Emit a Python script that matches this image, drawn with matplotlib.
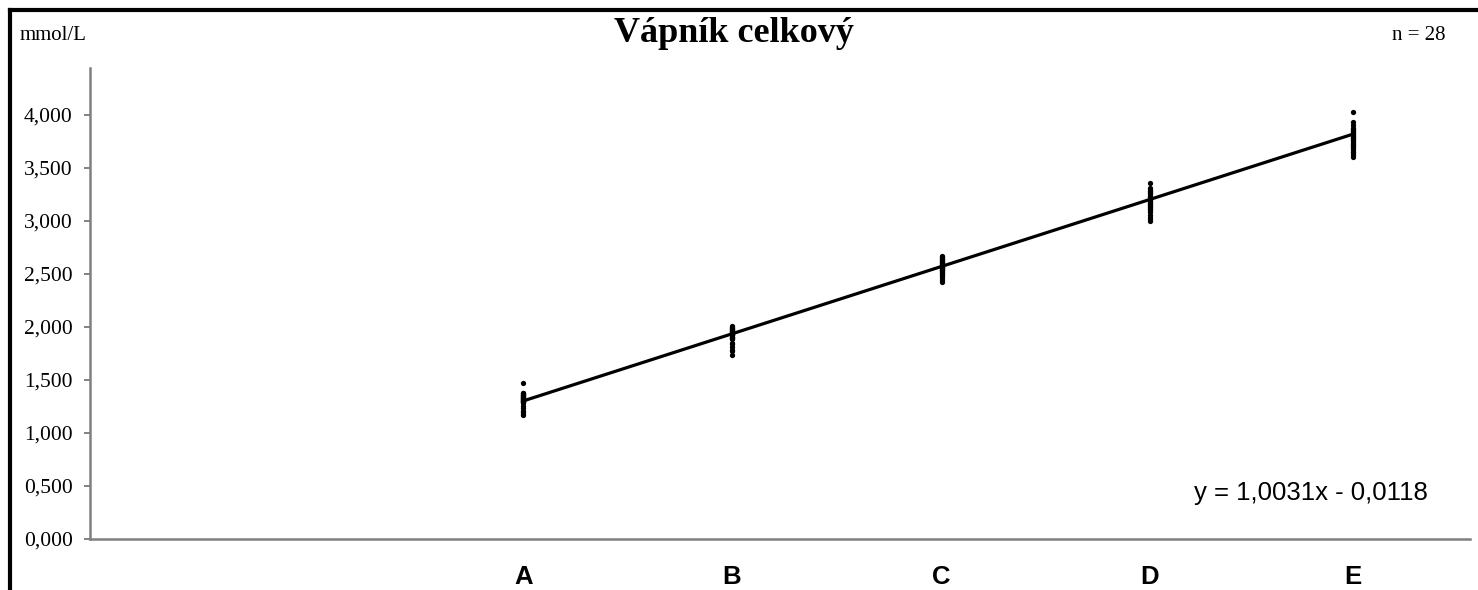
import matplotlib
matplotlib.use("Agg")
import matplotlib.pyplot as plt
from matplotlib.lines import Line2D
from matplotlib.ticker import FuncFormatter, MultipleLocator

# assigned (target) values and their labels on the x axis
levels = ["A", "B", "C", "D", "E"]
targets = [1.31, 1.94, 2.575, 3.205, 3.82]

# measured values of the 28 participants, one list per level (mmol/L)
vals_a = [1.47, 1.38, 1.38, 1.37, 1.36, 1.36, 1.35, 1.35, 1.34, 1.34, 1.33, 1.33, 1.32, 1.32,
          1.31, 1.31, 1.30, 1.30, 1.30, 1.29, 1.29, 1.28, 1.25, 1.24, 1.21, 1.20, 1.18, 1.17]
vals_b = [2.01, 2.00, 1.99, 1.98, 1.98, 1.97, 1.96, 1.96, 1.95, 1.95, 1.94, 1.94, 1.93, 1.93,
          1.93, 1.92, 1.92, 1.91, 1.91, 1.90, 1.90, 1.89, 1.85, 1.84, 1.81, 1.78, 1.77, 1.74]
vals_c = [2.67, 2.66, 2.65, 2.64, 2.63, 2.62, 2.61, 2.61, 2.60, 2.59, 2.58, 2.58, 2.57, 2.57,
          2.56, 2.56, 2.55, 2.54, 2.54, 2.53, 2.52, 2.51, 2.50, 2.49, 2.48, 2.46, 2.44, 2.42]
vals_d = [3.36, 3.31, 3.29, 3.28, 3.27, 3.26, 3.25, 3.24, 3.23, 3.22, 3.21, 3.21, 3.20, 3.19,
          3.18, 3.17, 3.16, 3.15, 3.14, 3.13, 3.12, 3.11, 3.10, 3.08, 3.06, 3.04, 3.02, 3.00]
vals_e = [4.03, 3.93, 3.91, 3.88, 3.87, 3.86, 3.85, 3.84, 3.83, 3.82, 3.81, 3.80, 3.79, 3.78,
          3.77, 3.76, 3.75, 3.74, 3.73, 3.72, 3.71, 3.70, 3.69, 3.67, 3.65, 3.64, 3.62, 3.60]
measured = [vals_a, vals_b, vals_c, vals_d, vals_e]

# regression line shown on the chart
slope, intercept = 1.0031, -0.0118
n_labs = 28

SERIF = "Liberation Serif"
SANS = "Liberation Sans"
GREY = "#808080"

fig = plt.figure(figsize=(14.78, 5.90), dpi=100)
ax = fig.add_axes([90 / 1478, 1 - 539 / 590, 1380 / 1478, 471 / 590])

for x, ys in zip(targets, measured):
    ax.plot([x] * len(ys), ys, "o", color="black", ms=3.8, mew=0, zorder=2)

x_line = [targets[0], targets[-1]]
ax.plot(x_line, [slope * x + intercept for x in x_line], color="black", lw=2.3, zorder=3)

ax.set_xlim(0, 4.173)
ax.set_ylim(0, 4.443)
ax.yaxis.set_major_locator(MultipleLocator(0.5))
ax.yaxis.set_major_formatter(FuncFormatter(lambda v, p: f"{v:.3f}".replace(".", ",")))
ax.set_xticks(targets, levels)

for side in ("top", "right"):
    ax.spines[side].set_visible(False)
for side in ("left", "bottom"):
    ax.spines[side].set_color(GREY)
    ax.spines[side].set_linewidth(1.8)

ax.tick_params(axis="y", direction="out", length=4.5, width=1.4, color=GREY, pad=8,
               labelsize=15.5)
ax.tick_params(axis="x", length=0, pad=19, labelsize=18.5)
for lab in ax.get_yticklabels():
    lab.set_fontfamily(SERIF)
for lab in ax.get_xticklabels():
    lab.set_fontfamily(SANS)
    lab.set_fontweight("bold")

fig.text(0.4966, 1 - 34 / 590, "Vápník celkový", family=SERIF, weight="bold", size=26,
         ha="center", va="center")
fig.text(20 / 1478, 1 - 36 / 590, "mmol/L", family=SERIF, size=15, ha="left", va="center")
fig.text(1445 / 1478, 1 - 36 / 590, f"n = {n_labs}", family=SERIF, size=15, ha="right",
         va="center")
ax.text(1428 / 1478, 1 - 493 / 590, f"y = {slope:.4f}x - {abs(intercept):.4f}".replace(".", ","),
        transform=fig.transFigure, family=SANS, size=18.5, ha="right", va="center")

# frame visible on the left and top edges
fig.add_artist(Line2D([10 / 1478, 10 / 1478], [0, 1 - 10 / 590], color="black", lw=3,
                      transform=fig.transFigure))
fig.add_artist(Line2D([10 / 1478, 1], [1 - 10 / 590, 1 - 10 / 590], color="black", lw=3,
                      transform=fig.transFigure))

fig.savefig("out.png", dpi=100)
